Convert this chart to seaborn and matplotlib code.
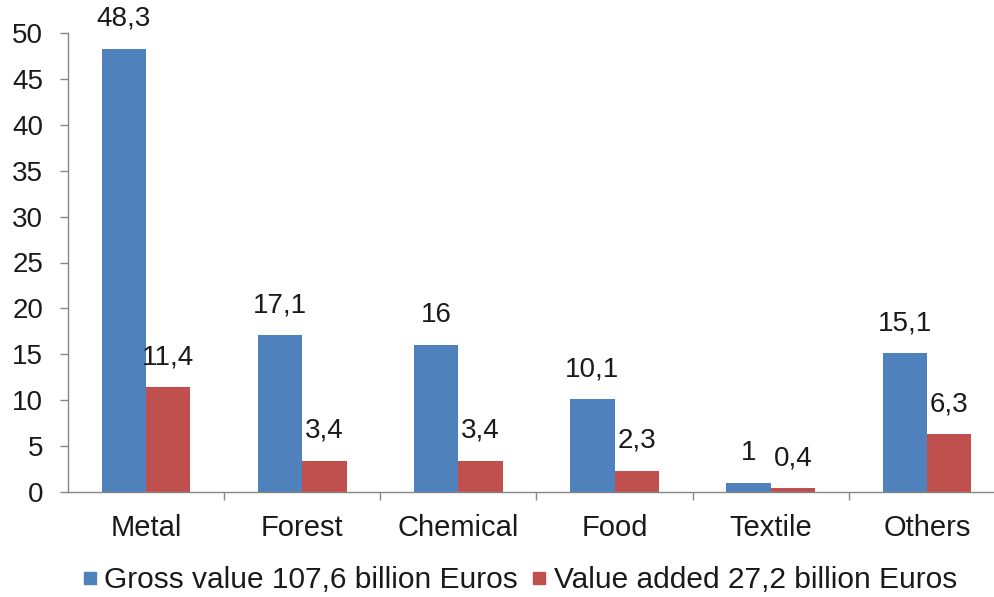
import matplotlib
matplotlib.use("Agg")
import matplotlib.pyplot as plt
from matplotlib.lines import Line2D
import seaborn as sns
import pandas as pd

categories = ["Metal", "Forest", "Chemical", "Food", "Textile", "Others"]
gross_value = [48.3, 17.1, 16, 10.1, 1, 15.1]
value_added = [11.4, 3.4, 3.4, 2.3, 0.4, 6.3]
series_names = ["Gross value 107,6 billion Euros", "Value added 27,2 billion Euros"]
y_ticks = [0, 5, 10, 15, 20, 25, 30, 35, 40, 45, 50]

colors = ["#4F81BD", "#C0504D"]
text_color = "#1a1a1a"
axis_color = "#868686"
fs = 20

sns.set_theme(style="white")
plt.rcParams["font.family"] = ["Liberation Sans", "DejaVu Sans"]

df = pd.DataFrame({
    "category": categories * 2,
    "value": gross_value + value_added,
    "series": [series_names[0]] * len(categories) + [series_names[1]] * len(categories),
})

fig = plt.figure(figsize=(9.95, 5.97), dpi=100)
ax = fig.add_axes([68 / 995, 1 - 492 / 597, (1005 - 68) / 995, (492 - 33) / 597])

sns.barplot(data=df, x="category", y="value", hue="series", order=categories,
            hue_order=series_names, palette=colors, width=0.567, gap=0,
            saturation=1, linewidth=0, ax=ax, legend=False)

def fmt(v):
    s = f"{v:g}"
    return s.replace(".", ",")

for container in ax.containers:
    for bar in container:
        h = bar.get_height()
        ax.annotate(fmt(h), (bar.get_x() + bar.get_width() / 2, h),
                    xytext=(0, 30), textcoords="offset pixels",
                    ha="center", va="center", fontsize=fs, color=text_color)

ax.set_xlim(-0.5, len(categories) - 0.5)
ax.set_ylim(0, 50)
ax.set_yticks(y_ticks)
ax.set_xlabel("")
ax.set_ylabel("")

for side in ["top", "right"]:
    ax.spines[side].set_visible(False)
for side in ["left", "bottom"]:
    ax.spines[side].set_color(axis_color)
    ax.spines[side].set_linewidth(1.0)

ax.tick_params(axis="y", which="major", direction="out", length=5.8, width=1,
               color=axis_color, pad=12, labelsize=fs, labelcolor=text_color, left=True)
ax.tick_params(axis="x", which="major", length=0, pad=16, labelsize=21,
               labelcolor=text_color, bottom=True)
ax.set_xticks([i + 0.5 for i in range(len(categories) - 1)], minor=True)
ax.tick_params(axis="x", which="minor", direction="out", length=5.8, width=1,
               color=axis_color, bottom=True)

handles = [Line2D([0], [0], marker="s", linestyle="", markersize=9,
                  markerfacecolor=c, markeredgecolor=c) for c in colors]
fig.legend(handles, series_names, loc="center", bbox_to_anchor=(520 / 995, 1 - 580 / 597),
           ncol=2, frameon=False, fontsize=21.5, handlelength=0.45, handletextpad=0.25,
           columnspacing=0.5, labelcolor=text_color)

fig.savefig("out.png", dpi=100)
